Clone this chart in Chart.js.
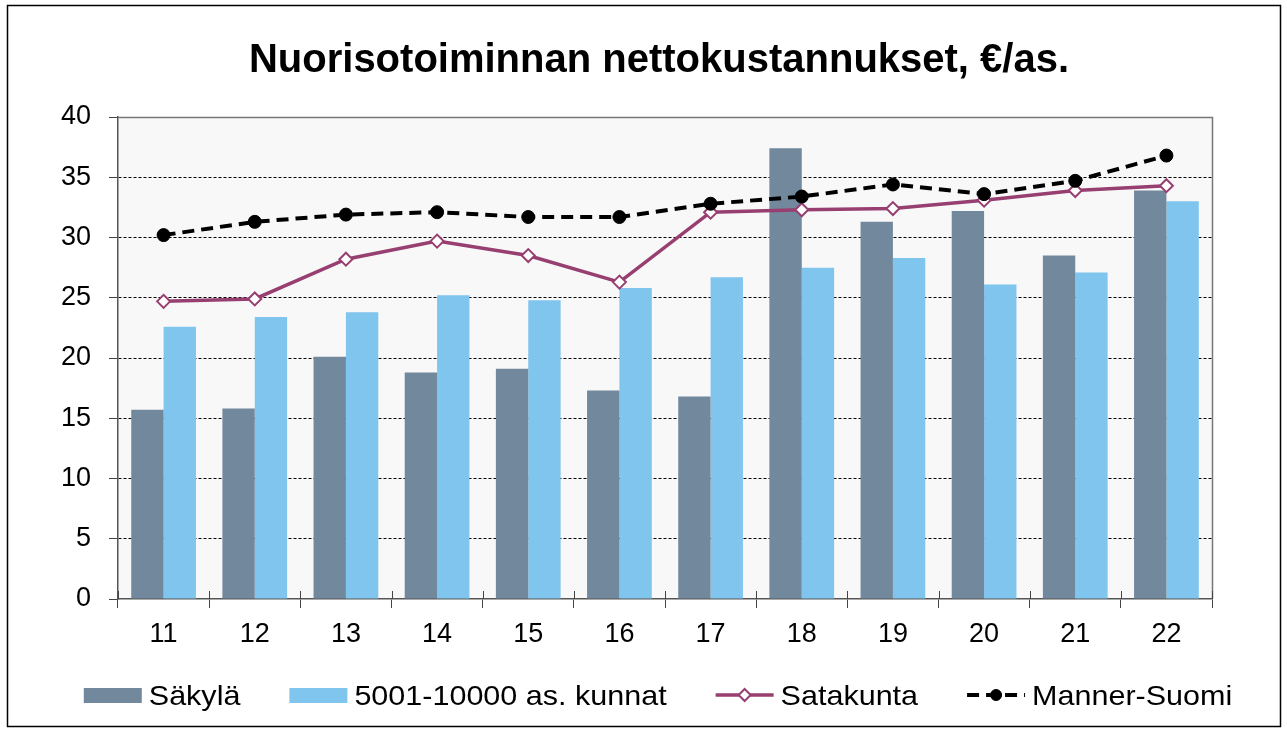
<!DOCTYPE html>
<html>
<head>
<meta charset="utf-8">
<script src="https://cdn.jsdelivr.net/npm/chart.js@4.4.3/dist/chart.umd.min.js"></script>
<style>
  html, body { margin: 0; padding: 0; background: #fff; }
  #wrap { width: 1287px; height: 731px; position: relative; }
</style>
</head>
<body>
<div id="wrap"><canvas id="c" width="1287" height="731"></canvas></div>
<script>
const years = ['11', '12', '13', '14', '15', '16', '17', '18', '19', '20', '21', '22'];
const sakyla = [15.7, 15.8, 20.1, 18.8, 19.1, 17.3, 16.8, 37.4, 31.3, 32.2, 28.5, 33.9];
const kunnat = [22.6, 23.4, 23.8, 25.2, 24.8, 25.8, 26.7, 27.5, 28.3, 26.1, 27.1, 33.0];
const satakunta = [24.7, 24.9, 28.2, 29.7, 28.5, 26.3, 32.1, 32.3, 32.4, 33.1, 33.9, 34.3];
const mannerSuomi = [30.2, 31.3, 31.9, 32.1, 31.7, 31.7, 32.8, 33.4, 34.4, 33.6, 34.7, 36.8];

const FONT = "'Liberation Sans', Arial, sans-serif";
const C_SAKYLA = '#72889d';
const C_KUNNAT = '#7fc5ed';
const C_SATAKUNTA = '#973f70';

// plot background, frame and outer border
const framePlugin = {
    id: 'frame',
    beforeDraw(chart) {
        const { ctx, chartArea: a } = chart;
        ctx.save();
        ctx.fillStyle = '#fff';
        ctx.fillRect(0, 0, chart.width, chart.height);
        ctx.strokeStyle = '#000';
        ctx.lineWidth = 1.5;
        ctx.strokeRect(7.5, 5.5, chart.width - 14, chart.height - 10);
        ctx.fillStyle = '#f8f8f8';
        ctx.fillRect(a.left, a.top, a.right - a.left, a.bottom - a.top);
        ctx.restore();
    },
    afterDatasetsDraw(chart) {
        const { ctx, chartArea: a } = chart;
        ctx.save();
        ctx.strokeStyle = '#777';
        ctx.lineWidth = 1.5;
        ctx.beginPath();
        ctx.moveTo(a.left, a.top + 0.5);
        ctx.lineTo(a.right + 0.5, a.top + 0.5);
        ctx.lineTo(a.right + 0.5, a.bottom);
        ctx.stroke();
        // x tick marks reach a little above the axis too
        const xs = chart.scales.x;
        ctx.strokeStyle = '#444';
        ctx.lineWidth = 1;
        ctx.beginPath();
        for (let i = 0; i <= years.length; i++) {
            const px = Math.round(xs.getPixelForValue(i - 0.5)) + 0.5;
            ctx.moveTo(px, a.bottom - 8);
            ctx.lineTo(px, a.bottom);
        }
        ctx.stroke();
        ctx.restore();
    }
};

// title and bottom legend drawn by hand (line items show the marker mid-line)
const textPlugin = {
    id: 'texts',
    afterDraw(chart) {
        const ctx = chart.ctx;
        ctx.save();
        ctx.fillStyle = '#000';
        ctx.textBaseline = 'alphabetic';
        ctx.textAlign = 'center';
        ctx.font = `bold 40px ${FONT}`;
        ctx.fillText('Nuorisotoiminnan nettokustannukset, €/as.', 659, 72);

        ctx.font = `28px ${FONT}`;
        ctx.textAlign = 'left';
        const stretch = 1.09;
        const y = 695;
        const items = chart.data.datasets.map(ds => ({ ds, w: 58 }));
        const gap = 49, pad = 7;
        let total = 0;
        items.forEach(it => { it.tw = ctx.measureText(it.ds.label).width * stretch; total += it.w + pad + it.tw; });
        total += gap * (items.length - 1);
        let x = 658 - total / 2;
        items.forEach(it => {
            const ds = it.ds;
            if (ds.type === 'line') {
                ctx.save();
                ctx.strokeStyle = ds.borderColor;
                ctx.lineWidth = ds.borderWidth;
                ctx.setLineDash(ds.borderDash || []);
                ctx.beginPath();
                ctx.moveTo(x, y);
                ctx.lineTo(x + it.w, y);
                ctx.stroke();
                ctx.setLineDash([]);
                const cx = x + it.w / 2;
                ctx.fillStyle = ds.pointBackgroundColor;
                ctx.strokeStyle = ds.pointBorderColor;
                ctx.lineWidth = ds.pointBorderWidth;
                ctx.beginPath();
                if (ds.pointStyle === 'rectRot') {
                    const r = 6;
                    ctx.moveTo(cx, y - r); ctx.lineTo(cx + r, y); ctx.lineTo(cx, y + r); ctx.lineTo(cx - r, y);
                    ctx.closePath();
                } else {
                    ctx.arc(cx, y, 5.5, 0, Math.PI * 2);
                }
                ctx.fill();
                ctx.stroke();
                ctx.restore();
            } else {
                ctx.fillStyle = ds.backgroundColor;
                ctx.fillRect(x, y - 7, it.w, 15);
            }
            ctx.save();
            ctx.translate(x + it.w + pad, y + 10);
            ctx.scale(stretch, 1);
            ctx.fillStyle = '#000';
            ctx.fillText(ds.label, 0, 0);
            ctx.restore();
            x += it.w + pad + it.tw + gap;
        });
        ctx.restore();
    }
};

new Chart(document.getElementById('c'), {
    data: {
        labels: years,
        datasets: [
            {
                type: 'bar', label: 'Säkylä', data: sakyla, backgroundColor: C_SAKYLA,
                categoryPercentage: 0.71, barPercentage: 1, order: 3
            },
            {
                type: 'bar', label: '5001-10000 as. kunnat', data: kunnat, backgroundColor: C_KUNNAT,
                categoryPercentage: 0.71, barPercentage: 1, order: 4
            },
            {
                type: 'line', label: 'Satakunta', data: satakunta, borderColor: C_SATAKUNTA, borderWidth: 3.5,
                pointStyle: 'rectRot', pointRadius: 6.5, pointBackgroundColor: '#fff',
                pointBorderColor: C_SATAKUNTA, pointBorderWidth: 2, tension: 0, order: 2
            },
            {
                type: 'line', label: 'Manner-Suomi', data: mannerSuomi, borderColor: '#000', borderWidth: 4,
                borderDash: [12, 7], pointStyle: 'circle', pointRadius: 6.5, pointBackgroundColor: '#000',
                pointBorderColor: '#000', pointBorderWidth: 1, tension: 0, order: 1
            }
        ]
    },
    options: {
        responsive: false,
        animation: false,
        layout: { padding: { top: 117, right: 75, bottom: 82, left: 0 } },
        plugins: {
            legend: { display: false },
            title: { display: false },
            tooltip: { enabled: false }
        },
        scales: {
            x: {
                offset: true,
                grid: {
                    offset: true, drawOnChartArea: false, color: '#444', tickLength: 9
                },
                border: { color: '#555', width: 1.5 },
                ticks: { color: '#000', font: { family: FONT, size: 27 }, padding: 10 },
                afterFit(scale) { scale.height = 50; }
            },
            y: {
                min: 0, max: 40,
                ticks: { stepSize: 5, color: '#000', font: { family: FONT, size: 27 }, padding: 18 },
                grid: {
                    color: ctx => (ctx.tick && (ctx.tick.value === 0 || ctx.tick.value === 40)) ? 'rgba(0,0,0,0)' : '#000',
                    lineWidth: 1,
                    tickColor: '#444',
                    tickLength: 9,
                    tickBorderDash: []
                },
                // border.dash styles the horizontal gridlines
                border: { color: '#555', width: 1.5, dash: [3, 2] },
                afterFit(scale) { scale.width = 118; }
            }
        }
    },
    plugins: [framePlugin, textPlugin]
});
</script>
</body>
</html>
